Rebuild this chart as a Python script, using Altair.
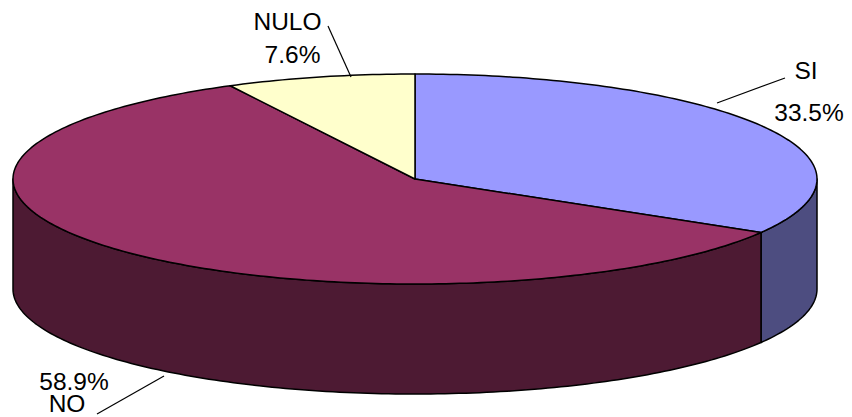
import math
import altair as alt

# Data
categories = ["SI", "NO", "NULO"]
shares = [33.5, 58.9, 7.6]
top_colors = ["#9999FF", "#993366", "#FFFFCC"]
side_colors = ["#4D4D80", "#4D1A33", "#808066"]

# Drawing geometry of the tilted disc, in page pixels
OX, OY = 8, 8
CX, CY, RX, RY, DEPTH = 415 - OX, 179 - OY, 402, 105, 110
STEP = 1.0


def rim(turn, drop=0.0):
    a = 2 * math.pi * turn
    return [CX + RX * math.sin(a), CY - RY * math.cos(a) + drop]


def feature(coords, fill, kind="Polygon"):
    geometry = {"type": kind, "coordinates": [coords] if kind == "Polygon" else coords}
    return {"type": "Feature", "geometry": geometry, "properties": {"fill": fill}}


def turns(a, b):
    n = max(2, int(abs(b - a) * 360 / STEP) + 1)
    return [a + (b - a) * i / (n - 1) for i in range(n)]


tops, sides = [], []
start = 0.0
for share, top_c, side_c in zip(shares, top_colors, side_colors):
    end = start + share / 100
    arc = turns(start, end)
    tops.append(feature([[CX, CY]] + [rim(t) for t in arc] + [[CX, CY]], top_c))
    lo, hi = max(start, 0.25), min(end, 0.75)  # only the front of the disc shows its wall
    if hi > lo:
        wall = turns(lo, hi)
        ring = [rim(t) for t in wall] + [rim(t, DEPTH) for t in reversed(wall)]
        sides.append(feature(ring + [ring[0]], side_c))
    start = end

# Leader lines and label placement (page pixels)
leaders = [
    feature([[785 - OX, 78 - OY], [717 - OX, 103 - OY]], "none", "LineString"),
    feature([[164 - OX, 376 - OY], [97 - OX, 414 - OY]], "none", "LineString"),
    feature([[328 - OX, 26 - OY], [351 - OX, 77 - OY]], "none", "LineString"),
]
label_texts = ["SI", "33.5%", "58.9%", "NO", "NULO", "7.6%"]
label_x = [806, 809, 74, 67, 287.5, 292.5]
label_y = [79, 121, 390, 411.5, 30, 63]
labels = [
    {"t": t, "lon": x - OX, "lat": y - OY}
    for t, x, y in zip(label_texts, label_x, label_y)
]

proj = dict(type="identity", scale=1, translate=[0, 0])
FILL = alt.Fill("properties.fill:N", scale=None, legend=None)

side_layer = (
    alt.Chart(alt.Data(values=sides))
    .mark_geoshape(stroke="#000000", strokeWidth=1.5, strokeJoin="round")
    .encode(fill=FILL)
    .project(**proj)
)
top_layer = (
    alt.Chart(alt.Data(values=tops))
    .mark_geoshape(stroke="#000000", strokeWidth=1.5, strokeJoin="round")
    .encode(fill=FILL)
    .project(**proj)
)
leader_layer = (
    alt.Chart(alt.Data(values=leaders))
    .mark_geoshape(filled=False, stroke="#000000", strokeWidth=1.2)
    .project(**proj)
)
text_layer = (
    alt.Chart(alt.Data(values=labels))
    .mark_text(font="Liberation Sans", fontSize=24.5, color="#000000", align="center", baseline="alphabetic")
    .encode(longitude="lon:Q", latitude="lat:Q", text="t:N")
    .project(**proj)
)

chart = (
    alt.layer(side_layer, top_layer, leader_layer, text_layer)
    .properties(width=836, height=409, padding=0, autosize=alt.AutoSizeParams(type="none"), background="#FFFFFF")
    .configure_view(stroke=None)
)
chart.save("out.html", embed_options={"renderer": "svg", "actions": False})
